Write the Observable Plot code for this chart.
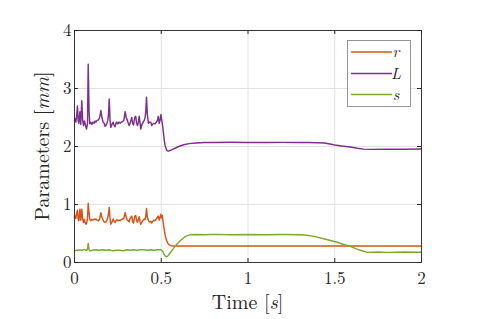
<!DOCTYPE html>
<html><head><meta charset="utf-8">
<script src="https://cdn.jsdelivr.net/npm/d3@7"></script>
<script src="https://cdn.jsdelivr.net/npm/@observablehq/plot@0.6"></script>
<style>body{margin:0;background:#fff}#chart{width:497px;height:319px}</style>
</head><body><div id="chart"></div>
<script>
const xTicks = [0, 0.5, 1, 1.5, 2];
const yTicks = [0, 1, 2, 3, 4];
const xTickLabels = ["0", "0.5", "1", "1.5", "2"];
const yTickLabels = ["0", "1", "2", "3", "4"];
const seriesNames = ["r", "L", "s"];
const seriesColors = ["#D95319", "#7E2F8E", "#77AC30"];
const xLabel = ["Time ", "[", "s", "]"];
const yLabel = ["Parameters ", "[", "mm", "]"];

// [time (s), value (mm)]
const seriesR = [
[0.000,0.78],[0.004,0.80],[0.008,0.76],[0.012,0.84],[0.017,0.90],[0.021,0.75],[0.025,0.72],[0.031,0.92],
[0.036,0.73],[0.042,0.92],[0.047,0.75],[0.052,0.69],[0.057,0.74],[0.061,0.70],[0.066,0.66],[0.069,0.67],
[0.075,0.75],[0.079,1.02],[0.084,0.85],[0.088,0.75],[0.094,0.72],[0.100,0.74],[0.106,0.73],[0.113,0.75],
[0.118,0.74],[0.123,0.75],[0.130,0.73],[0.138,0.72],[0.145,0.75],[0.152,0.86],[0.158,0.78],[0.165,0.73],
[0.171,0.70],[0.176,0.69],[0.181,0.70],[0.187,0.73],[0.192,0.78],[0.196,0.85],[0.200,0.95],[0.205,0.75],
[0.209,0.66],[0.216,0.70],[0.223,0.75],[0.229,0.70],[0.234,0.69],[0.239,0.72],[0.244,0.74],[0.250,0.72],
[0.257,0.73],[0.263,0.72],[0.270,0.74],[0.277,0.75],[0.284,0.76],[0.292,0.86],[0.298,0.78],[0.305,0.73],
[0.310,0.72],[0.315,0.70],[0.319,0.75],[0.325,0.78],[0.330,0.80],[0.335,0.70],[0.340,0.68],[0.347,0.80],
[0.353,0.81],[0.358,0.72],[0.363,0.69],[0.368,0.74],[0.373,0.79],[0.378,0.70],[0.382,0.66],[0.389,0.70],
[0.396,0.73],[0.402,0.75],[0.407,0.74],[0.411,0.80],[0.415,0.93],[0.420,0.78],[0.426,0.72],[0.433,0.70],
[0.440,0.71],[0.445,0.68],[0.449,0.70],[0.457,0.73],[0.465,0.72],[0.471,0.75],[0.478,0.78],[0.483,0.80],
[0.488,0.73],[0.493,0.78],[0.498,0.83],[0.502,0.77],[0.506,0.81],[0.510,0.72],[0.515,0.61],[0.520,0.52],
[0.525,0.44],[0.531,0.38],[0.538,0.33],[0.547,0.30],[0.557,0.29],[0.58,0.285],[0.65,0.285],[0.75,0.283],
[0.85,0.285],[0.95,0.284],[1.05,0.285],[1.15,0.283],[1.25,0.285],[1.35,0.284],[1.45,0.283],[1.55,0.285],
[1.65,0.284],[1.75,0.285],[1.85,0.284],[1.95,0.285],[2.0,0.284]
];

const seriesL = [
[0.000,2.45],[0.004,2.48],[0.008,2.42],[0.012,2.53],[0.017,2.70],[0.021,2.45],[0.025,2.40],[0.031,2.60],
[0.036,2.38],[0.042,2.79],[0.047,2.45],[0.052,2.36],[0.057,2.44],[0.061,2.40],[0.066,2.33],[0.069,2.30],
[0.075,2.40],[0.079,3.42],[0.084,2.60],[0.088,2.39],[0.094,2.42],[0.100,2.38],[0.106,2.42],[0.113,2.40],
[0.118,2.44],[0.123,2.42],[0.130,2.45],[0.138,2.46],[0.145,2.50],[0.152,2.62],[0.158,2.50],[0.165,2.42],
[0.171,2.40],[0.176,2.35],[0.181,2.36],[0.187,2.40],[0.192,2.45],[0.196,2.55],[0.200,2.82],[0.205,2.45],
[0.209,2.33],[0.216,2.38],[0.223,2.42],[0.229,2.36],[0.234,2.34],[0.239,2.40],[0.244,2.42],[0.250,2.39],
[0.257,2.42],[0.263,2.40],[0.270,2.42],[0.277,2.43],[0.284,2.45],[0.292,2.60],[0.298,2.50],[0.305,2.45],
[0.310,2.40],[0.315,2.36],[0.319,2.39],[0.325,2.45],[0.330,2.50],[0.335,2.40],[0.340,2.37],[0.347,2.50],
[0.353,2.52],[0.358,2.40],[0.363,2.36],[0.368,2.42],[0.373,2.52],[0.378,2.40],[0.382,2.30],[0.389,2.38],
[0.396,2.42],[0.402,2.45],[0.407,2.50],[0.411,2.60],[0.415,2.85],[0.420,2.55],[0.426,2.40],[0.433,2.42],
[0.440,2.42],[0.445,2.36],[0.449,2.38],[0.457,2.40],[0.465,2.39],[0.471,2.42],[0.478,2.45],[0.483,2.52],
[0.488,2.40],[0.493,2.45],[0.498,2.55],[0.503,2.45],[0.507,2.38],[0.512,2.25],[0.517,2.12],[0.522,2.02],
[0.528,1.96],[0.533,1.93],[0.540,1.92],[0.550,1.93],[0.565,1.95],[0.580,1.97],[0.600,2.00],[0.630,2.03],
[0.660,2.05],[0.700,2.06],[0.750,2.07],[0.800,2.068],[0.900,2.072],[1.000,2.07],[1.100,2.068],[1.200,2.071],
[1.300,2.07],[1.340,2.068],[1.400,2.065],[1.440,2.06],[1.480,2.04],[1.510,2.02],[1.550,2.005],[1.590,1.99],
[1.630,1.97],[1.667,1.955],[1.700,1.95],[1.800,1.955],[1.900,1.953],[2.000,1.956]
];

const seriesS = [
[0.000,0.20],[0.010,0.21],[0.020,0.21],[0.030,0.22],[0.040,0.21],[0.050,0.22],[0.060,0.22],[0.070,0.21],
[0.075,0.23],[0.079,0.33],[0.084,0.22],[0.090,0.20],[0.100,0.21],[0.120,0.22],[0.140,0.21],[0.160,0.22],
[0.180,0.21],[0.200,0.22],[0.220,0.20],[0.240,0.21],[0.260,0.21],[0.280,0.20],[0.300,0.22],[0.320,0.21],
[0.340,0.22],[0.360,0.21],[0.380,0.22],[0.400,0.22],[0.420,0.21],[0.440,0.22],[0.460,0.21],[0.480,0.22],
[0.496,0.22],[0.505,0.205],[0.511,0.18],[0.516,0.14],[0.522,0.115],[0.529,0.10],[0.535,0.105],[0.540,0.12],
[0.550,0.16],[0.563,0.21],[0.582,0.29],[0.611,0.38],[0.640,0.45],[0.669,0.48],[0.70,0.482],[0.75,0.478],
[0.80,0.485],[0.90,0.48],[1.00,0.484],[1.10,0.48],[1.20,0.483],[1.30,0.48],[1.33,0.475],[1.38,0.45],
[1.437,0.41],[1.475,0.38],[1.514,0.35],[1.55,0.31],[1.59,0.28],[1.62,0.24],[1.648,0.21],[1.69,0.175],
[1.75,0.18],[1.80,0.175],[1.90,0.18],[2.00,0.178]
];

const seriesData = [seriesR, seriesL, seriesS];
const rows = seriesData.flatMap((pts, i) => pts.map(([t, v]) => ({series: seriesNames[i], t, v})));

const W = 497, H = 319, ml = 74, mr = 76, mt = 30, mb = 57;
const innerW = W - ml - mr, innerH = H - mt - mb, tk = 4;
const ink = "#262626";
const font = "'Latin Modern Roman', 'Times New Roman', serif";

const chart = Plot.plot({
  width: W, height: H, marginLeft: ml, marginRight: mr, marginTop: mt, marginBottom: mb,
  style: {fontFamily: font, fontSize: "17px", color: ink, background: "#fff", overflow: "visible"},
  x: {domain: [0, 2]},
  y: {domain: [0, 4]},
  color: {domain: seriesNames, range: seriesColors},
  marks: [
    Plot.gridX(xTicks, {stroke: "#e2e2e2", strokeOpacity: 1}),
    Plot.gridY(yTicks, {stroke: "#e2e2e2", strokeOpacity: 1}),
    Plot.line(rows, {x: "t", y: "v", z: "series", stroke: "series", strokeWidth: 1.45}),
    Plot.frame({stroke: ink, strokeWidth: 0.9}),
    Plot.tickX(xTicks, {x: d => d, insetTop: innerH - tk, stroke: ink}),
    Plot.tickX(xTicks, {x: d => d, insetBottom: innerH - tk, stroke: ink}),
    Plot.tickY(yTicks, {y: d => d, insetRight: innerW - tk, stroke: ink}),
    Plot.tickY(yTicks, {y: d => d, insetLeft: innerW - tk, stroke: ink}),
    Plot.axisX(xTicks, {tickSize: 0, tickPadding: 9, fontSize: 17, label: null, fill: ink,
      fontFamily: font, tickFormat: d => xTickLabels[xTicks.indexOf(d)]}),
    Plot.axisY(yTicks, {tickSize: 0, tickPadding: 3, fontSize: 17, label: null, fill: ink,
      fontFamily: font, tickFormat: d => yTickLabels[yTicks.indexOf(d)]})
  ]
});
document.getElementById("chart").appendChild(chart);

const svg = d3.select(chart);
function richText(g, parts) {
  parts.forEach((p, i) => {
    g.append("tspan").text(p).attr("font-style", (i === 2) ? "italic" : "normal");
  });
}
const xl = svg.append("text").attr("x", ml + innerW / 2).attr("y", 309)
  .attr("text-anchor", "middle").style("font-family", font).attr("font-size", 20).attr("fill", ink);
richText(xl, xLabel);
const yl = svg.append("text").attr("transform", `translate(49,${mt + innerH / 2}) rotate(-90)`)
  .attr("text-anchor", "middle").style("font-family", font).attr("font-size", 20).attr("fill", ink);
richText(yl, yLabel);

// legend
const lg = svg.append("g");
lg.append("rect").attr("x", 347.5).attr("y", 40.5).attr("width", 63).attr("height", 66)
  .attr("fill", "#fff").attr("stroke", "#8c8c8c").attr("stroke-width", 0.9);
const ly = [52, 73.5, 94.5];
seriesNames.forEach((n, i) => {
  lg.append("line").attr("x1", 351).attr("x2", 392).attr("y1", ly[i]).attr("y2", ly[i])
    .attr("stroke", seriesColors[i]).attr("stroke-width", 1.45);
  lg.append("text").attr("x", 396).attr("y", ly[i]).attr("dy", "0.32em").style("font-family", font)
    .attr("font-style", "italic").attr("font-size", 16).attr("fill", ink).text(n);
});
</script>
</body></html>
